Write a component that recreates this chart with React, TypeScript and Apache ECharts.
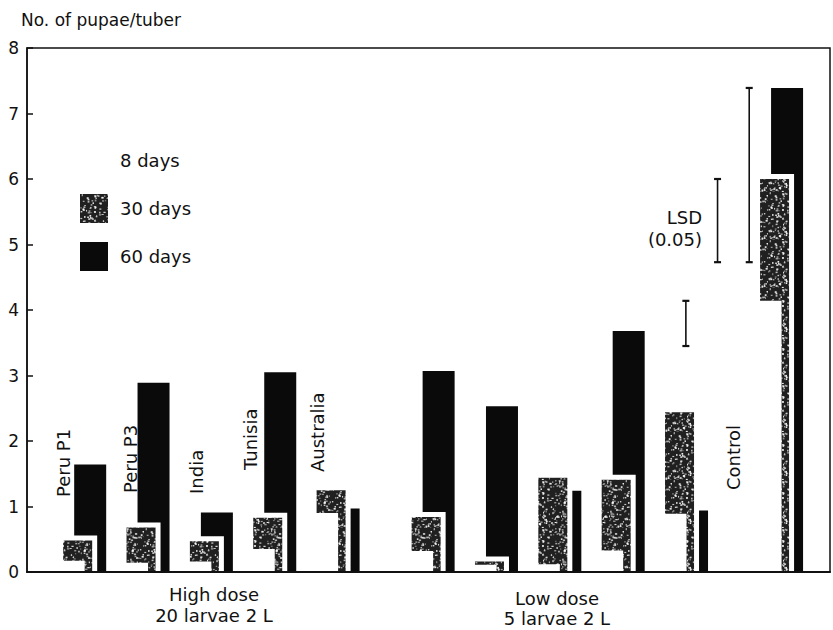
import React, { useEffect, useRef } from "react";
import * as echarts from "echarts";

// Groups: 5 origins at high dose, the same 5 at low dose, then the untreated control
const groups = [
  "Peru P1", "Peru P3", "India", "Tunisia", "Australia",
  "Peru P1", "Peru P3", "India", "Tunisia", "Australia",
  "Control",
];
const doses = [
  "High dose", "High dose", "High dose", "High dose", "High dose",
  "Low dose", "Low dose", "Low dose", "Low dose", "Low dose",
  "Control",
];
const seriesNames = ["8 days", "30 days", "60 days"];

// No. of pupae/tuber
const days8 = [0.17, 0.14, 0.16, 0.35, 0.9, 0.32, 0.11, 0.12, 0.33, 0.89, 4.14];
const days30 = [0.48, 0.68, 0.47, 0.83, 1.25, 0.84, 0.16, 1.44, 1.41, 2.44, 6.0];
const days60 = [1.64, 2.89, 0.91, 3.05, 0.97, 3.07, 2.53, 1.24, 3.68, 0.94, 7.39];

// LSD (0.05) for 8, 30 and 60 days, hung from the control values
const lsd = [0.69, 1.27, 2.66];

const yTicks = [0, 1, 2, 3, 4, 5, 6, 7, 8];
const doseLabels = [
  ["High dose", "20 larvae 2 L"],
  ["Low dose", "5 larvae 2 L"],
];

const FONT = '"DejaVu Sans", "Liberation Sans", Arial, sans-serif';
const INK = "#111";

// slot on the (hidden) x axis: high dose groups side by side, a gap, low dose, a gap, control
const slotOf = (i: number) => (i < 5 ? 2 * i : i < 10 ? 2 * i + 1 : 2 * i + 2);

// drawing style of the three overlapping bars of a group (front white, middle speckled, back black)
const BAR_LOOK = [
  { offset: -12.5, width: 34, stroke: 5, topShift: 2.5, z: 4 },
  { offset: 0, width: 34, stroke: 5, topShift: -2.5, z: 3 },
  { offset: 12.5, width: 32, stroke: 0, topShift: 0, z: 2 },
];

// deterministic speckle texture for the 30-day bars
function makeSpeckle(): HTMLCanvasElement {
  const c = document.createElement("canvas");
  c.width = 48;
  c.height = 48;
  const g = c.getContext("2d")!;
  g.fillStyle = "#202020";
  g.fillRect(0, 0, 48, 48);
  let s = 20231;
  const next = () => {
    s = (s * 16807) % 2147483647;
    return s / 2147483647;
  };
  for (let i = 0; i < 230; i++) {
    const x = next() * 48;
    const y = next() * 48;
    const w = 0.8 + next() * 1.6;
    const h = 0.8 + next() * 1.2;
    g.fillStyle = `rgba(255,255,255,${(0.45 + next() * 0.5).toFixed(2)})`;
    g.fillRect(x, y, w, h);
  }
  return c;
}

export default function App() {
  const ref = useRef<HTMLDivElement>(null);

  useEffect(() => {
    if (!ref.current) return;
    const chart = echarts.init(ref.current, undefined, { renderer: "svg" });

    const speckle = { image: makeSpeckle(), repeat: "repeat" };
    const fills: any[] = ["#ffffff", speckle, "#0a0a0a"];
    const values = [days8, days30, days60];

    const ctrl = groups.length - 1;
    const controlVals = [days8[ctrl], days30[ctrl], days60[ctrl]];
    const lsdData = lsd.map((d, k) => [slotOf(ctrl) - 2.8 + k, controlVals[k] - d, controlVals[k]]);

    const barSeries = seriesNames.map((name, k) => {
      const look = BAR_LOOK[k];
      return {
        type: "custom",
        name,
        z: look.z,
        clip: true,
        silent: true,
        itemStyle: { color: fills[k] },
        encode: { x: 0, y: 1 },
        data: values[k].map((v, i) => [slotOf(i), v]),
        renderItem: (_p: any, api: any) => {
          const x = api.value(0);
          const base = api.coord([x, 0]);
          const top = api.coord([x, api.value(1)]);
          const cx = base[0] + look.offset;
          const y0 = top[1] + look.topShift;
          return {
            type: "rect",
            shape: { x: cx - look.width / 2, y: y0, width: look.width, height: base[1] + 4 - y0 },
            style: {
              fill: fills[k],
              stroke: look.stroke ? "#ffffff" : null,
              lineWidth: look.stroke,
            },
          };
        },
      };
    });

    const vertLabel = (text: string, x: number, y: number) => ({
      type: "text",
      x,
      y,
      rotation: Math.PI / 2,
      z: 20,
      style: {
        text,
        fill: INK,
        font: `18px ${FONT}`,
        textAlign: "left",
        textVerticalAlign: "middle",
        align: "left",
        verticalAlign: "middle",
      },
    });

    const option: any = {
      animation: false,
      backgroundColor: "#fff",
      title: {
        text: "No. of pupae/tuber",
        left: 16,
        top: 6,
        textStyle: { fontFamily: FONT, fontSize: 17, fontWeight: "normal", color: INK },
      },
      legend: {
        data: seriesNames,
        orient: "vertical",
        left: 75,
        top: 141,
        itemWidth: 28,
        itemHeight: 29,
        itemGap: 19,
        icon: "rect",
        selectedMode: false,
        itemStyle: { borderWidth: 0 },
        textStyle: { fontFamily: FONT, fontSize: 18, color: INK, padding: [0, 0, 0, 7] },
      },
      grid: {
        left: 27,
        right: 3,
        top: 48,
        bottom: 58,
        show: true,
        borderColor: INK,
        borderWidth: 1.5,
        backgroundColor: "transparent",
      },
      xAxis: {
        type: "value",
        min: -1.6,
        max: 23.75,
        z: 10,
        axisLine: { show: true, onZero: false, lineStyle: { color: INK, width: 2 } },
        axisTick: { show: false },
        axisLabel: { show: false },
        splitLine: { show: false },
      },
      yAxis: {
        type: "value",
        min: yTicks[0],
        max: yTicks[yTicks.length - 1],
        interval: 1,
        z: 10,
        axisLine: { show: true, onZero: false, lineStyle: { color: INK, width: 1.5 } },
        axisTick: { show: true, inside: true, length: 6, lineStyle: { color: INK, width: 1.5 } },
        axisLabel: { fontFamily: FONT, fontSize: 17, color: INK, margin: 8 },
        splitLine: { show: false },
      },
      series: [
        ...barSeries,
        {
          type: "custom",
          name: "LSD (0.05)",
          silent: true,
          z: 6,
          data: lsdData,
          encode: { x: 0, y: [1, 2] },
          renderItem: (_p: any, api: any) => {
            const x = api.value(0);
            const top = api.coord([x, api.value(2)]);
            const bot = api.coord([x, api.value(1)]);
            const cap = 3.5;
            const st = { stroke: INK, lineWidth: 1.6 };
            return {
              type: "group",
              children: [
                { type: "line", shape: { x1: top[0], y1: top[1], x2: bot[0], y2: bot[1] }, style: st },
                { type: "line", shape: { x1: top[0] - cap, y1: top[1], x2: top[0] + cap, y2: top[1] }, style: { ...st, lineWidth: 2.2 } },
                { type: "line", shape: { x1: bot[0] - cap, y1: bot[1], x2: bot[0] + cap, y2: bot[1] }, style: { ...st, lineWidth: 2.2 } },
              ],
            };
          },
        },
      ],
      graphic: [
        vertLabel(groups[0], 63.5, 497),
        vertLabel(groups[1], 130, 493),
        vertLabel(groups[2], 196, 494),
        vertLabel(groups[3], 250.5, 470),
        vertLabel(groups[4], 317.5, 472),
        vertLabel(groups[10], 733, 490),
        {
          type: "text",
          x: 702,
          y: 206,
          z: 20,
          style: {
            text: "LSD\n(0.05)",
            fill: INK,
            font: `18px ${FONT}`,
            lineHeight: 22,
            textAlign: "right",
            align: "right",
          },
        },
        {
          type: "text",
          x: 214,
          y: 584,
          z: 20,
          style: {
            text: doseLabels[0].join("\n"),
            fill: INK,
            font: `18px ${FONT}`,
            lineHeight: 21,
            textAlign: "center",
            align: "center",
          },
        },
        {
          type: "text",
          x: 557,
          y: 588,
          z: 20,
          style: {
            text: doseLabels[1].join("\n"),
            fill: INK,
            font: `18px ${FONT}`,
            lineHeight: 20,
            textAlign: "center",
            align: "center",
          },
        },
      ],
    };

    chart.setOption(option);
    return () => chart.dispose();
  }, []);

  return (
    <div
      ref={ref}
      data-doses={doses.join(",")}
      style={{ position: "fixed", left: 0, top: 0, width: 833, height: 630, background: "#fff" }}
    />
  );
}
